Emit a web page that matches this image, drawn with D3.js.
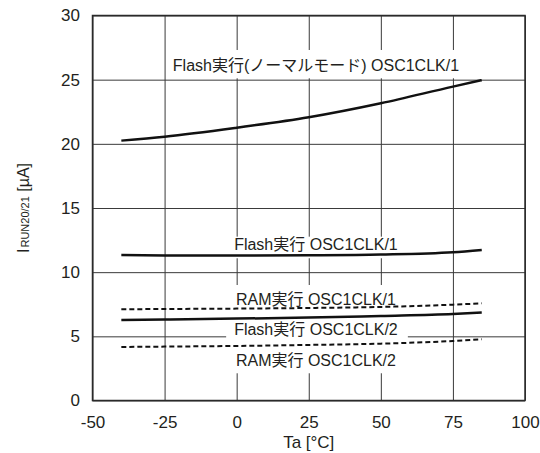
<!DOCTYPE html>
<html>
<head>
<meta charset="utf-8">
<script src="https://cdn.jsdelivr.net/npm/d3@7/dist/d3.min.js"></script>
<style>
  html, body { margin: 0; padding: 0; background: #fff; }
  svg { display: block; }
  text { font-family: "Liberation Sans", Arial, "Noto Sans CJK JP", sans-serif; fill: #231f20; }
</style>
</head>
<body>
<svg id="chart" width="540" height="453"></svg>
<script>
// ---- data ----
const temps = [-40, -25, 0, 25, 50, 75, 85];
const flashNormal1 = [20.25, 20.56, 21.26, 22.07, 23.16, 24.46, 24.96];
const flash1 = [11.33, 11.30, 11.29, 11.31, 11.37, 11.55, 11.73];
const ram1 = [7.11, 7.13, 7.16, 7.21, 7.29, 7.47, 7.57];
const flash2 = [6.27, 6.31, 6.38, 6.46, 6.59, 6.74, 6.85];
const ram2 = [4.17, 4.20, 4.25, 4.33, 4.43, 4.64, 4.77];
const xTicks = [-50, -25, 0, 25, 50, 75, 100];
const yTicks = [0, 5, 10, 15, 20, 25, 30];
const seriesNames = ["Flash実行(ノーマルモード) OSC1CLK/1", "Flash実行 OSC1CLK/1", "RAM実行 OSC1CLK/1", "Flash実行 OSC1CLK/2", "RAM実行 OSC1CLK/2"];
const labelX = [27.5, 27.5, 27.5, 27.5, 27.5];
const labelY = [25.7, 11.73, 7.48, 5.1, 2.69];
const xTitle = "Ta [°C]";

// ---- layout / style ----
const series = [flashNormal1, flash1, ram1, flash2, ram2];
const dashed = [false, false, true, false, true];
const boxPad = [ {l: 2, r: 2, t: 20.7, b: 7.6}, {l: 6, r: 6, t: 13.3, b: 8.3},
                 {l: 8, r: 10, t: 19.5, b: 11}, {l: 8, r: 10, t: 20, b: 12}, {l: 8, r: 10, t: 20, b: 7.3} ];

const svg = d3.select("#chart");
const x = d3.scaleLinear().domain([-50, 100]).range([92.5, 525]);
const y = d3.scaleLinear().domain([0, 30]).range([400.5, 15.5]);
const [x0, x1] = x.range();
const [y0, y1] = y.range();
const fmt = d => String(d);

// gridlines
svg.append("g")
  .attr("transform", `translate(0,${y0})`)
  .call(d3.axisBottom(x).tickValues(xTicks).tickSize(-(y0 - y1)).tickFormat(""))
  .call(g => g.select(".domain").remove())
  .call(g => g.selectAll("line").attr("stroke", "#3a3a3a").attr("stroke-width", 1));
svg.append("g")
  .attr("transform", `translate(${x0},0)`)
  .call(d3.axisLeft(y).tickValues(yTicks).tickSize(-(x1 - x0)).tickFormat(""))
  .call(g => g.select(".domain").remove())
  .call(g => g.selectAll("line").attr("stroke", "#3a3a3a").attr("stroke-width", 1));

// label backgrounds and labels
const labelG = svg.append("g");
const texts = seriesNames.map((name, i) =>
  labelG.append("text")
    .attr("x", x(labelX[i]))
    .attr("y", y(labelY[i]))
    .attr("text-anchor", "middle")
    .attr("font-size", 16)
    .text(name));
texts.forEach((t, i) => {
  const bb = t.node().getBBox();
  const by = y(labelY[i]);
  labelG.insert("rect", "text")
    .attr("x", bb.x - boxPad[i].l)
    .attr("width", bb.width + boxPad[i].l + boxPad[i].r)
    .attr("y", by - boxPad[i].t)
    .attr("height", boxPad[i].t + boxPad[i].b)
    .attr("fill", "#fff");
});

// curves
const line = d3.line()
  .x((d, i) => x(temps[i]))
  .y(d => y(d))
  .curve(d3.curveMonotoneX);
series.forEach((s, i) => {
  svg.append("path")
    .datum(s)
    .attr("d", line)
    .attr("fill", "none")
    .attr("stroke", "#111")
    .attr("stroke-width", dashed[i] ? 2 : 2.5)
    .attr("stroke-dasharray", dashed[i] ? "5,3" : null);
});

// frame
svg.append("rect")
  .attr("x", x0).attr("y", y1)
  .attr("width", x1 - x0).attr("height", y0 - y1)
  .attr("fill", "none").attr("stroke", "#2a2a2a").attr("stroke-width", 1.5);

// tick labels
svg.append("g")
  .attr("transform", `translate(0,${y0})`)
  .call(d3.axisBottom(x).tickValues(xTicks).tickSize(0).tickPadding(15).tickFormat(fmt))
  .call(g => g.select(".domain").remove())
  .call(g => g.selectAll("text").attr("font-size", 17).attr("fill", "#231f20")
    .attr("font-family", "'Liberation Sans', Arial, sans-serif"));
svg.append("g")
  .attr("transform", `translate(${x0},0)`)
  .call(d3.axisLeft(y).tickValues(yTicks).tickSize(0).tickPadding(12.5).tickFormat(fmt))
  .call(g => g.select(".domain").remove())
  .call(g => g.selectAll("text").attr("font-size", 17).attr("fill", "#231f20")
    .attr("font-family", "'Liberation Sans', Arial, sans-serif"));

// axis titles
svg.append("text")
  .attr("x", (x0 + x1) / 2).attr("y", 448)
  .attr("text-anchor", "middle").attr("font-size", 17)
  .text(xTitle);
const yt = svg.append("text")
  .attr("transform", `translate(29,${(y0 + y1) / 2}) rotate(-90)`)
  .attr("text-anchor", "middle").attr("font-size", 16);
yt.append("tspan").text("I");
yt.append("tspan").attr("font-size", 11).attr("dx", 1).text("RUN20/21");
yt.append("tspan").text(" [µA]");
</script>
</body>
</html>
